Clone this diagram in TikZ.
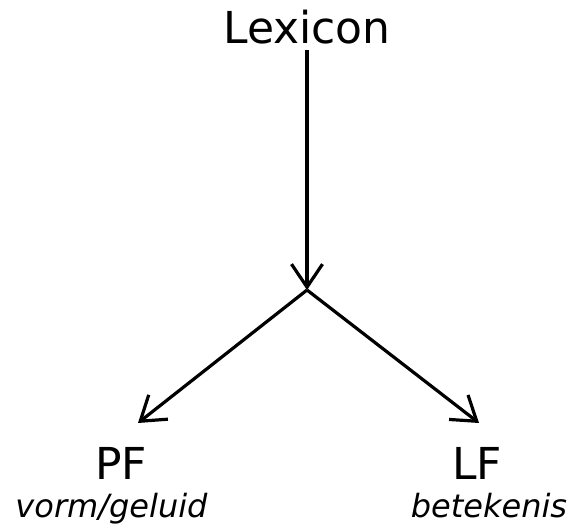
\documentclass[tikz,border=0pt]{standalone}
\usepackage{fontspec}
\setmainfont{DejaVu Sans}
\usetikzlibrary{arrows.meta}
\begin{document}
\begin{tikzpicture}[x=1pt,y=-1pt,
  conn/.style={line width=3.2pt,-{Straight Barb[length=23pt,width=31pt,line width=3.2pt]}},
  big/.style={font=\fontsize{44}{50}\selectfont,inner sep=0pt},
  small/.style={font=\fontsize{32}{38}\selectfont\itshape,inner sep=0pt}]
\useasboundingbox (0,0) rectangle (571,529);
\node[big,anchor=base] (lex) at (307,44) {Lexicon};
\coordinate (lexbot) at (307,50);
\coordinate (j) at (307,290);
\coordinate (pftip) at (138,423);
\coordinate (lftip) at (479,423);
\node[big,anchor=base] (pf) at (121,480) {PF};
\node[big,anchor=base] (lf) at (477,480) {LF};
\node[small,anchor=base] (pfs) at (111.5,518) {vorm/geluid};
\node[small,anchor=base] (lfs) at (489,518) {betekenis};
\draw[conn] (lexbot) -- (j);
\draw[conn] (j) -- (pftip);
\draw[conn] (j) -- (lftip);
\end{tikzpicture}
\end{document}
